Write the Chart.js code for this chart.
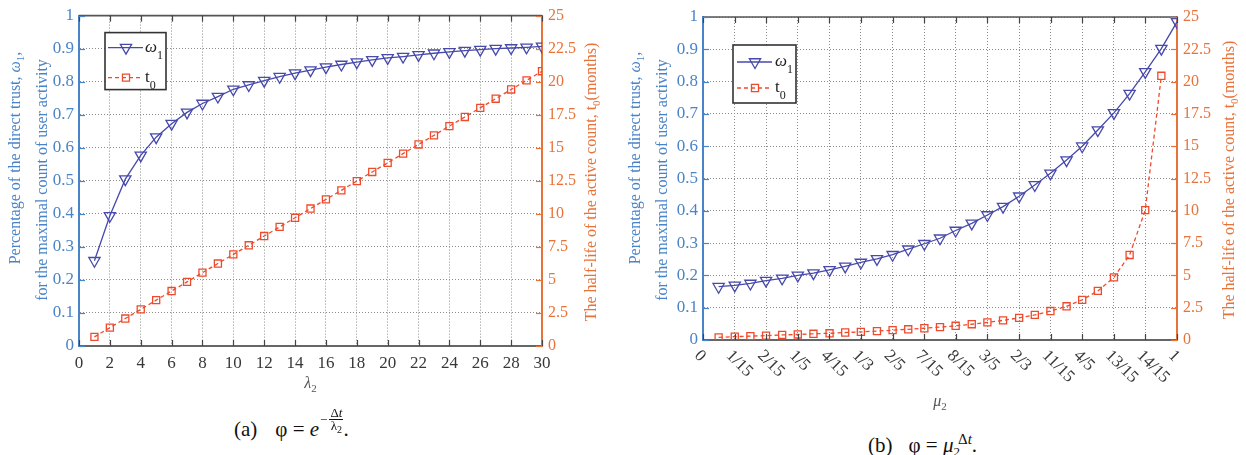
<!DOCTYPE html>
<html>
<head>
<meta charset="utf-8">
<script src="https://cdn.jsdelivr.net/npm/chart.js@4.4.1/dist/chart.umd.min.js"></script>
<style>
  html, body { margin: 0; padding: 0; background: #fff; }
  body { width: 1246px; height: 455px; overflow: hidden; position: relative; font-family: "Liberation Serif", serif; }
  .panel { position: absolute; top: 0; }
  #panelA { left: 0; }
  #panelB { left: 620px; }
  .cap { position: absolute; color: #111; white-space: nowrap; font-size: 21px; line-height: 1; font-family: "Liberation Serif", serif; }
  .cap .gap { display: inline-block; width: 18px; }
  .cap .exp { display: inline-block; font-size: 13px; position: relative; top: -0.95em; margin-left: 1px; }
  .cap .frac { display: inline-block; vertical-align: middle; text-align: center; margin-left: 2px; }
  .cap .frac span { display: block; line-height: 12px; padding: 0 1px; }
  .cap .frac .num { border-bottom: 1px solid #111; }
  .cap sub { font-size: 13px; vertical-align: -0.3em; }
  .cap sup { font-size: 15px; vertical-align: 0.55em; margin-left: -2px; }
</style>
</head>
<body>
<div class="panel" id="panelA"><canvas id="chartA" width="610" height="410"></canvas></div>
<div class="panel" id="panelB"><canvas id="chartB" width="626" height="420"></canvas></div>

<div class="cap" id="capA" style="left:234px; top:419px;">(a)<span class="gap"></span>φ = <i>e</i><span class="exp">−<span class="frac"><span class="num">Δ<i>t</i></span><span>λ<sub style="font-size:10px">2</sub></span></span></span>.</div>
<div class="cap" id="capB" style="left:868px; top:432px;">(b)<span class="gap" style="width:16px"></span>φ = <i>μ</i><sub>2</sub><sup>Δ<i>t</i></sup>.</div>

<script>
// ---- (a) exponential decay, swept over λ2 ----
const lambda2 = [1, 2, 3, 4, 5, 6, 7, 8, 9, 10, 11, 12, 13, 14, 15, 16, 17, 18, 19, 20, 21, 22, 23, 24, 25, 26, 27, 28, 29, 30];
const omega1A = [0.258, 0.394, 0.505, 0.577, 0.632, 0.673, 0.707, 0.734, 0.755, 0.777, 0.790, 0.803, 0.815, 0.826, 0.835,
                 0.844, 0.852, 0.859, 0.866, 0.872, 0.876, 0.881, 0.886, 0.890, 0.894, 0.897, 0.900, 0.902, 0.904, 0.907];
const t0A = [0.69, 1.39, 2.08, 2.77, 3.47, 4.16, 4.85, 5.55, 6.24, 6.93, 7.62, 8.32, 9.01, 9.70, 10.40,
             11.09, 11.78, 12.48, 13.17, 13.86, 14.56, 15.25, 15.94, 16.64, 17.33, 18.02, 18.71, 19.41, 20.10, 20.79];

// ---- (b) power decay, swept over μ2 ----
const mu2 = [0.033, 0.067, 0.100, 0.133, 0.167, 0.200, 0.233, 0.267, 0.300, 0.333, 0.367, 0.400, 0.433, 0.467, 0.500,
             0.533, 0.567, 0.600, 0.633, 0.667, 0.700, 0.733, 0.767, 0.800, 0.833, 0.867, 0.900, 0.933, 0.967, 1.000];
const omega1B = [0.165, 0.169, 0.175, 0.184, 0.191, 0.200, 0.207, 0.217, 0.228, 0.240, 0.251, 0.264, 0.281, 0.298, 0.315,
                 0.339, 0.361, 0.387, 0.413, 0.445, 0.480, 0.516, 0.557, 0.600, 0.650, 0.703, 0.763, 0.830, 0.902, 0.985];
const t0B = [0.20, 0.26, 0.30, 0.34, 0.39, 0.43, 0.48, 0.52, 0.58, 0.63, 0.69, 0.76, 0.83, 0.91, 1.00,
             1.10, 1.22, 1.36, 1.52, 1.71, 1.94, 2.24, 2.61, 3.11, 3.80, 4.85, 6.58, 10.05, 20.45];

// x-axis ticks of (b): multiples of 1/15, labelled as reduced fractions
const tickValuesB = [0, 0.0667, 0.1333, 0.2, 0.2667, 0.3333, 0.4, 0.4667, 0.5333, 0.6, 0.6667, 0.7333, 0.8, 0.8667, 0.9333, 1];
const tickLabelsB = ['0', '1/15', '2/15', '1/5', '4/15', '1/3', '2/5', '7/15', '8/15', '3/5', '2/3', '11/15', '4/5', '13/15', '14/15', '1'];

const SERIF = '"Liberation Serif", serif';
const BLUE_AXIS = '#4a84c8';
const ORANGE_AXIS = '#e8733a';
const OMEGA_COLOR = '#4749ab';
const T0_COLOR = '#ef4a2b';
const TICK_TEXT = '#383838';
const GRID = '#8c8c8c';

function pairs(xs, ys) {
  return ys.map((y, i) => ({ x: xs[i], y: y }));
}

// plain numbers: 0, 0.1, ..., 1 and 2.5, 5, ..., 25
const plainNumber = v => String(Math.round(v * 1000) / 1000);

function richWidth(ctx, parts) {
  let w = 0;
  parts.forEach(p => { ctx.font = p.f; w += ctx.measureText(p.t).width; });
  return w;
}

// draws a run of text pieces (with sub/superscript offsets) centred on (x, y)
function drawRich(ctx, parts, x, y, rot, color) {
  ctx.save();
  ctx.translate(x, y);
  ctx.rotate(rot);
  ctx.fillStyle = color;
  ctx.textAlign = 'left';
  ctx.textBaseline = 'alphabetic';
  let cx = -richWidth(ctx, parts) / 2;
  parts.forEach(p => {
    ctx.font = p.f;
    ctx.fillText(p.t, cx, p.dy || 0);
    cx += ctx.measureText(p.t).width;
  });
  ctx.restore();
}

function markerShape(ctx, style, x, y, r, rotation) {
  ctx.beginPath();
  if (style === 'triangle') {
    let rad = rotation * Math.PI / 180;
    ctx.moveTo(x + Math.sin(rad) * r, y - Math.cos(rad) * r);
    rad += 2 * Math.PI / 3;
    ctx.lineTo(x + Math.sin(rad) * r, y - Math.cos(rad) * r);
    rad += 2 * Math.PI / 3;
    ctx.lineTo(x + Math.sin(rad) * r, y - Math.cos(rad) * r);
    ctx.closePath();
  } else {
    const s = Math.SQRT1_2 * r;
    ctx.rect(x - s, y - s, 2 * s, 2 * s);
  }
  ctx.stroke();
}

const txt = (t, size, extra) => Object.assign({ t: t, f: size + 'px ' + SERIF }, extra || {});
const itx = (t, size, extra) => Object.assign({ t: t, f: 'italic ' + size + 'px ' + SERIF }, extra || {});

// frame, inward ticks, titles, slanted labels and the boxed legend
const figureDecor = {
  id: 'figureDecor',
  afterDraw(chart, args, o) {
    const { ctx, chartArea: a, scales } = chart;
    const line = (x1, y1, x2, y2) => { ctx.beginPath(); ctx.moveTo(x1, y1); ctx.lineTo(x2, y2); ctx.stroke(); };
    ctx.save();

    // top edge of the box
    ctx.strokeStyle = '#555';
    ctx.lineWidth = 1.6;
    line(a.left, a.top, a.right, a.top);

    // inward tick marks
    const tl = 6;
    ctx.lineWidth = 1.2;
    ctx.strokeStyle = '#444';
    scales.x.ticks.forEach(tk => {
      const px = Math.round(scales.x.getPixelForValue(tk.value)) + 0.5;
      line(px, a.bottom, px, a.bottom - tl);
      line(px, a.top, px, a.top + tl);
    });
    ctx.strokeStyle = BLUE_AXIS;
    scales.y.ticks.forEach(tk => {
      const py = Math.round(scales.y.getPixelForValue(tk.value)) + 0.5;
      line(a.left, py, a.left + tl, py);
    });
    ctx.strokeStyle = ORANGE_AXIS;
    scales.y1.ticks.forEach(tk => {
      const py = Math.round(scales.y1.getPixelForValue(tk.value)) + 0.5;
      line(a.right, py, a.right - tl, py);
    });

    // slanted category labels
    if (o.slantLabels) {
      ctx.fillStyle = TICK_TEXT;
      ctx.font = '17px ' + SERIF;
      ctx.textAlign = 'left';
      ctx.textBaseline = 'middle';
      o.slantLabels.values.forEach((v, i) => {
        const px = scales.x.getPixelForValue(v);
        ctx.save();
        ctx.translate(px - 6, a.bottom + 13);
        ctx.rotate(Math.PI / 4);
        ctx.fillText(o.slantLabels.labels[i], 0, 0);
        ctx.restore();
      });
    }

    // axis titles
    const ly = o.leftTitle;
    drawRich(ctx, [txt('Percentage of the direct trust, ', 16), itx('ω', 16), txt('1', 11, { dy: 4 }), txt(',', 16)],
      ly.x1, ly.c1, -Math.PI / 2, BLUE_AXIS);
    drawRich(ctx, [txt('for the maximal count of user activity', 16)], ly.x2, ly.c2, -Math.PI / 2, BLUE_AXIS);
    const ry = o.rightTitle;
    drawRich(ctx, [txt('The half-life of the active count, t', 16), txt('0', 11, { dy: 4 }), txt('(months)', 16)],
      ry.x, ry.c, -Math.PI / 2, ORANGE_AXIS);
    const xt = o.xTitle;
    drawRich(ctx, [itx(xt.sym, 16), txt('2', 11, { dy: 4 })], (a.left + a.right) / 2 + xt.dx, xt.y, 0, '#555');

    // legend
    const lg = o.legend;
    const bx = a.left + lg.dx, by = a.top + lg.dy;
    ctx.fillStyle = '#fff';
    ctx.fillRect(bx, by, lg.w, lg.h);
    ctx.strokeStyle = '#333';
    ctx.lineWidth = 1.6;
    ctx.strokeRect(bx, by, lg.w, lg.h);
    chart.data.datasets.forEach((ds, i) => {
      const yy = by + lg.rows[i];
      ctx.strokeStyle = ds.borderColor;
      ctx.lineWidth = ds.borderWidth;
      ctx.setLineDash(ds.borderDash || []);
      line(bx + lg.s0, yy, bx + lg.s1, yy);
      ctx.setLineDash([]);
      ctx.lineWidth = ds.pointBorderWidth;
      markerShape(ctx, ds.pointStyle, bx + lg.m, yy, ds.pointRadius, ds.pointRotation || 0);
      const parts = i === 0
        ? [itx('ω', 17), txt('1', 12, { dy: 7 })]
        : [txt('t', 17), txt('0', 12, { dy: 7 })];
      const w = richWidth(ctx, parts);
      drawRich(ctx, parts, bx + lg.tx + w / 2, yy + 4, 0, '#222');
    });

    ctx.restore();
  }
};

function fixedWidth(w) { return scale => { scale.width = w; }; }
function fixedHeight(h) { return scale => { scale.height = h; }; }

function makeChart(id, cfg) {
  return new Chart(document.getElementById(id), {
    type: 'line',
    data: {
      datasets: [
        {
          label: 'ω1',
          data: cfg.omega,
          yAxisID: 'y',
          borderColor: OMEGA_COLOR,
          borderWidth: 1.3,
          pointStyle: 'triangle',
          pointRotation: 180,
          pointRadius: 6.5,
          pointBorderWidth: 1.3,
          pointBorderColor: OMEGA_COLOR,
          pointBackgroundColor: 'rgba(0,0,0,0)',
          tension: 0,
          order: 1
        },
        {
          label: 't0',
          data: cfg.t0,
          yAxisID: 'y1',
          borderColor: T0_COLOR,
          borderWidth: 1.3,
          borderDash: [4, 3],
          pointStyle: 'rect',
          pointRadius: 5,
          pointBorderWidth: 1.3,
          pointBorderColor: T0_COLOR,
          pointBackgroundColor: 'rgba(0,0,0,0)',
          tension: 0,
          order: 2
        }
      ]
    },
    options: {
      responsive: false,
      animation: false,
      events: [],
      layout: { padding: { top: cfg.top, left: 0, right: 0, bottom: 0 } },
      plugins: {
        legend: { display: false },
        tooltip: { enabled: false },
        figureDecor: cfg.decor
      },
      scales: {
        x: {
          type: 'linear',
          min: cfg.xMin,
          max: cfg.xMax,
          afterFit: fixedHeight(cfg.xHeight),
          afterBuildTicks: cfg.xTicks ? (scale => { scale.ticks = cfg.xTicks.map(v => ({ value: v })); }) : undefined,
          ticks: {
            display: cfg.xLabels,
            stepSize: cfg.xStep,
            color: TICK_TEXT,
            font: { family: SERIF, size: 17 },
            padding: 7,
            maxRotation: 0,
            minRotation: 0,
            autoSkip: false,
            callback: plainNumber
          },
          grid: { color: GRID, lineWidth: 1, drawTicks: false },
          border: { color: '#666', width: 2, dash: [1, 2] }
        },
        y: {
          type: 'linear',
          position: 'left',
          min: 0,
          max: 1,
          afterFit: fixedWidth(cfg.leftW),
          ticks: {
            stepSize: 0.1,
            color: BLUE_AXIS,
            font: { family: SERIF, size: 17 },
            padding: 5,
            callback: plainNumber
          },
          grid: { color: GRID, lineWidth: 1, drawTicks: false },
          border: { color: BLUE_AXIS, width: 2, dash: [1, 2] }
        },
        y1: {
          type: 'linear',
          position: 'right',
          min: 0,
          max: 25,
          afterFit: fixedWidth(cfg.rightW),
          ticks: {
            stepSize: 2.5,
            color: ORANGE_AXIS,
            font: { family: SERIF, size: 16 },
            padding: 6,
            callback: plainNumber
          },
          grid: { display: false, drawTicks: false },
          border: { color: ORANGE_AXIS, width: 2 }
        }
      }
    },
    plugins: [figureDecor]
  });
}

function drawFigures() {
  makeChart('chartA', {
    omega: pairs(lambda2, omega1A),
    t0: pairs(lambda2, t0A),
    top: 15,
    xMin: 0, xMax: 30, xStep: 2, xLabels: true,
    xHeight: 64, leftW: 79, rightW: 68,
    decor: {
      leftTitle: { x1: 20, c1: 158, x2: 47, c2: 180 },
      rightTitle: { x: 596, c: 182 },
      xTitle: { sym: 'λ', dx: 0, y: 388 },
      legend: { dx: 26, dy: 17, w: 61, h: 57, rows: [15, 45], s0: 3, s1: 38, m: 21, tx: 40 }
    }
  });

  makeChart('chartB', {
    omega: pairs(mu2, omega1B),
    t0: pairs(mu2, t0B),
    top: 17,
    xMin: 0, xMax: 1, xTicks: tickValuesB, xLabels: false,
    xHeight: 80, leftW: 83, rightW: 69,
    decor: {
      leftTitle: { x1: 20, c1: 158, x2: 47, c2: 180 },
      rightTitle: { x: 614, c: 180 },
      xTitle: { sym: 'μ', dx: 0, y: 406 },
      slantLabels: { values: tickValuesB, labels: tickLabelsB },
      legend: { dx: 30, dy: 28, w: 63, h: 58, rows: [17, 43], s0: 4, s1: 39, m: 22, tx: 42 }
    }
  });
}

Promise.all([
  document.fonts.load('16px "Liberation Serif"'),
  document.fonts.load('italic 16px "Liberation Serif"')
]).catch(() => {}).then(drawFigures);
</script>
</body>
</html>
